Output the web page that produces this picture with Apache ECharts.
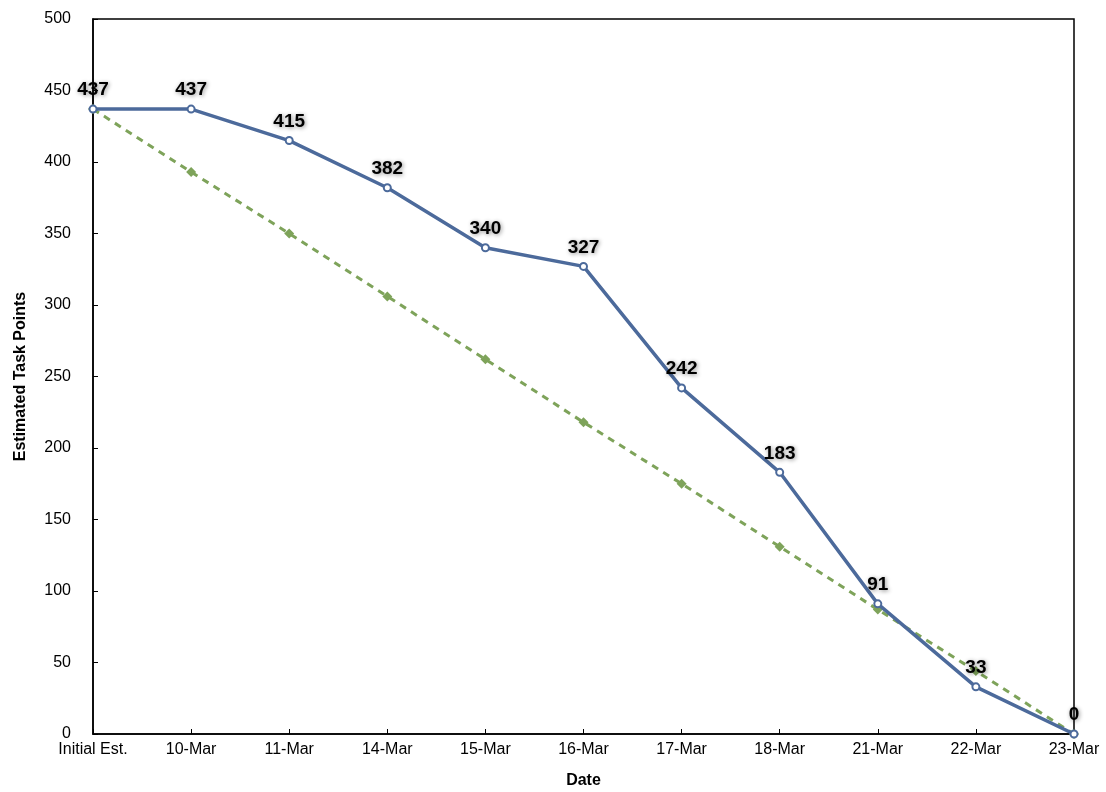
<!DOCTYPE html>
<html>
<head>
<meta charset="utf-8">
<script src="https://cdn.jsdelivr.net/npm/echarts@6/dist/echarts.min.js"></script>
<style>
  html, body { margin: 0; padding: 0; background: #fff; }
  #chart { width: 1106px; height: 792px; }
</style>
</head>
<body>
<div id="chart"></div>
<script>
// Sprint burndown: remaining task points per day vs. the ideal straight-line burn
const dates = ['Initial Est.', '10-Mar', '11-Mar', '14-Mar', '15-Mar', '16-Mar', '17-Mar', '18-Mar', '21-Mar', '22-Mar', '23-Mar'];
const actualPoints = [437, 437, 415, 382, 340, 327, 242, 183, 91, 33, 0];
const idealPoints = [437, 393, 350, 306, 262, 218, 175, 131, 87, 44, 0];
const yTicks = { min: 0, max: 500, step: 50 };

const chart = echarts.init(document.getElementById('chart'));
const fontFamily = 'Liberation Sans, Arial, sans-serif';

chart.setOption({
  animation: false,
  backgroundColor: '#ffffff',
  grid: {
    left: 93, right: 32, top: 19, bottom: 58,
    outerBoundsMode: 'none',
    containLabel: false,
    show: true, borderColor: '#000', borderWidth: 1.5, backgroundColor: 'transparent'
  },
  xAxis: {
    type: 'category',
    data: dates,
    boundaryGap: false,
    name: 'Date',
    nameLocation: 'middle',
    nameGap: 39,
    nameTextStyle: { fontFamily, fontSize: 16, fontWeight: 'bold', color: '#000' },
    axisLine: { lineStyle: { color: '#000', width: 1.5 } },
    axisTick: { inside: true, length: 5, lineStyle: { color: '#000' } },
    axisLabel: { fontFamily, fontSize: 16, color: '#000', margin: 8, interval: 0 },
    splitLine: { show: false }
  },
  yAxis: {
    type: 'value',
    min: yTicks.min, max: yTicks.max, interval: yTicks.step,
    name: 'Estimated Task Points',
    nameLocation: 'middle',
    nameGap: 64,
    nameTextStyle: { fontFamily, fontSize: 16, fontWeight: 'bold', color: '#000' },
    axisLine: { show: true, lineStyle: { color: '#000', width: 1.5 } },
    axisTick: { show: true, inside: true, length: 5, lineStyle: { color: '#000' } },
    axisLabel: { fontFamily, fontSize: 16, color: '#000', margin: 22 },
    splitLine: { show: false }
  },
  series: [
    {
      name: 'Ideal',
      type: 'line',
      data: idealPoints,
      symbol: 'diamond',
      symbolSize: 10,
      showAllSymbol: true,
      lineStyle: { color: '#7ea35a', width: 3, type: [7, 6] },
      itemStyle: { color: '#7ea35a' },
      z: 2
    },
    {
      name: 'Actual',
      type: 'line',
      data: actualPoints,
      symbol: 'circle',
      symbolSize: 7,
      showAllSymbol: true,
      lineStyle: { color: '#4c6a9b', width: 3.5 },
      itemStyle: { color: '#ffffff', borderColor: '#4c6a9b', borderWidth: 2 },
      label: {
        show: true,
        position: 'top',
        distance: 5,
        fontFamily,
        fontSize: 19,
        fontWeight: 'bold',
        color: '#000',
        textShadowColor: 'rgba(0,0,0,0.45)',
        textShadowBlur: 4,
        textShadowOffsetX: 1,
        textShadowOffsetY: 1
      },
      z: 3
    }
  ]
});
</script>
</body>
</html>
